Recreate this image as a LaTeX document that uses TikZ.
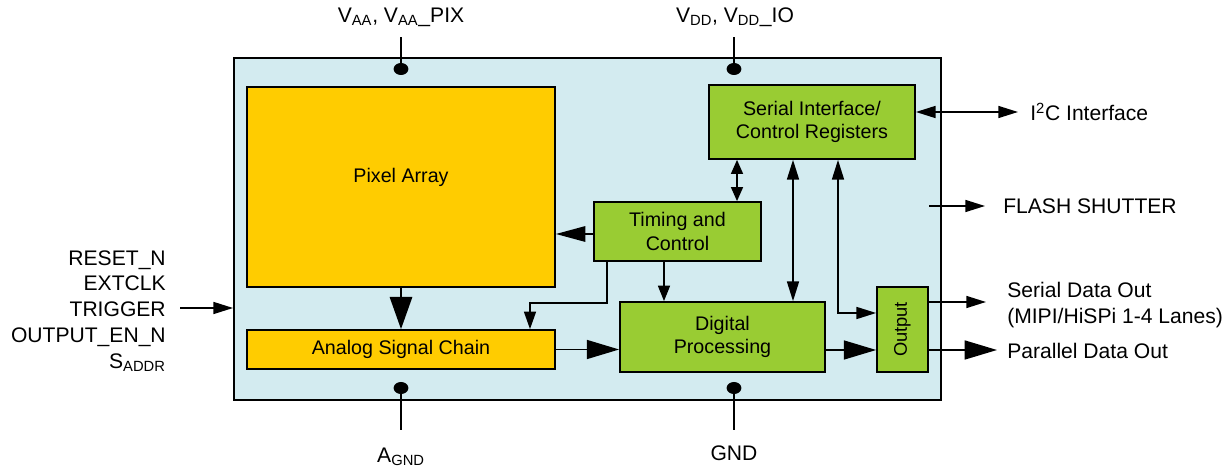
\documentclass[tikz,border=0pt]{standalone}
\usepackage{fontspec}
\setmainfont{Liberation Sans}
\usepackage{tikz}
\usetikzlibrary{arrows.meta, shapes.geometric}
\definecolor{ChipBlue}{HTML}{D3EBF0}
\definecolor{SensorYellow}{HTML}{FFCC00}
\definecolor{LogicGreen}{HTML}{99CC33}

\begin{document}
\begin{tikzpicture}[
  x=0.025cm, y=-0.025cm,
  btxt/.style={font=\fontsize{14}{16.7}\selectfont},
  box/.style={rectangle, draw, line width=1.2pt, inner sep=0pt, align=center, btxt},
  ybox/.style={box, fill=SensorYellow},
  gbox/.style={box, fill=LogicGreen},
  dot/.style={ellipse, fill, inner sep=0pt, minimum width=0.37cm, minimum height=0.3cm},
  lbl/.style={inner sep=0pt, font=\fontsize{15}{18.4}\selectfont},
  wire/.style={line width=1.2pt},
  arr/.style={wire, -{Triangle[length=14pt, width=8.5pt]}},
  dblarr/.style={wire, {Triangle[length=14pt, width=8.5pt]}-{Triangle[length=14pt, width=8.5pt]}},
  bigarr/.style={wire, -{Triangle[length=23pt, width=13.5pt]}}
]
\useasboundingbox (0,0) rectangle (1232,471);

% chip outline
\node[rectangle, draw, line width=1.2pt, fill=ChipBlue, minimum width=17.675cm, minimum height=8.55cm] (chip) at (587.5,229) {};

% blocks
\node[ybox, minimum width=7.7cm, minimum height=5cm,
      label={[btxt, yshift=0.24cm]center:Pixel Array}] (pix) at (401,187) {};
\node[ybox, minimum width=7.7cm, minimum height=0.975cm] (asc) at (401,349.5) {Analog Signal Chain};
\node[gbox, minimum width=5.15cm, minimum height=1.85cm] (sic) at (812,122) {Serial Interface/\\Control Registers};
\node[gbox, minimum width=4.175cm, minimum height=1.475cm] (tc) at (677.5,231.5) {Timing and\\Control};
\node[gbox, minimum width=5.125cm, minimum height=1.75cm] (dp) at (722.5,337) {Digital\\Processing};
\node[gbox, minimum width=1.275cm, minimum height=2.125cm] (out) at (902.5,329.5)
     {\fontsize{13}{15}\selectfont\rotatebox{90}{Output}};

% supply and ground pins
\node[dot] (vaadot) at (401,69) {};
\node[dot] (vdddot) at (734,69) {};
\node[dot] (agnddot) at (401,388) {};
\node[dot] (gnddot) at (734,388) {};
\coordinate (vaaend) at (401,37);
\coordinate (vddend) at (734,37);
\coordinate (agndend) at (401,430);
\coordinate (gndend) at (734,430);
\draw[wire] (vaadot.center) -- (vaaend);
\draw[wire] (vdddot.center) -- (vddend);
\draw[wire] (agnddot.center) -- (agndend);
\draw[wire] (gnddot.center) -- (gndend);
\node[lbl] (vaa) at (401,17) {V\textsubscript{AA}, V\textsubscript{AA}\_PIX};
\node[lbl] (vdd) at (735,17) {V\textsubscript{DD}, V\textsubscript{DD}\_IO};
\node[lbl] (agnd) at (401,457) {A\textsubscript{GND}};
\node[lbl] (gnd) at (734,453) {GND};

% inputs
\node[lbl, anchor=east, align=right] (ins) at (166,311)
     {RESET\_N\\EXTCLK\\TRIGGER\\OUTPUT\_EN\_N\\S\textsubscript{ADDR}};
\coordinate (inend) at (180,308);
\draw[arr] (inend) -- (inend -| chip.west);

% internal connections
\draw[wire, -{Triangle[length=23pt, width=16pt]}] (pix) -- (asc);
\draw[wire, -{Triangle[length=21pt, width=11pt]}] (tc.west |- 0,234) -- (pix.east |- 0,234);
\draw[wire, {Triangle[length=10pt, width=8.5pt]}-{Triangle[length=10pt, width=8.5pt]}] (sic.south -| 737,0) -- (tc.north -| 737,0);
\draw[wire, -{Triangle[length=11pt, width=8.5pt]}] (tc.south -| 664,0) -- (dp.north -| 664,0);
\draw[wire, -{Triangle[length=12.5pt, width=8.5pt]}] (tc.south -| 607,0) -- (607,303) -| (asc.north -| 530,0);
\draw[dblarr] (sic.south -| 793,0) -- (dp.north -| 793,0);
\draw[dblarr] (sic.south -| 838,0) |- (out.west |- 0,313);
\draw[bigarr] (asc.east) -- (asc.east -| dp.west);
\draw[bigarr] (dp.east |- 0,350) -- (out.west |- 0,350);

% outputs
\coordinate (i2cend) at (1018,112);
\coordinate (flashstart) at (929,206);
\coordinate (flashend) at (985,206);
\coordinate (serend) at (986,302);
\coordinate (parend) at (997,350);
\draw[dblarr] (sic.east |- i2cend) -- (i2cend);
\draw[arr] (flashstart) -- (flashend);
\draw[arr] (out.east |- serend) -- (serend);
\draw[bigarr] (out.east |- parend) -- (parend);
\node[lbl, anchor=west] (i2c) at (1030,112) {I\textsuperscript{2}C Interface};
\node[lbl, anchor=west] (flash) at (1003,206) {FLASH SHUTTER};
\node[lbl, anchor=west, align=left] (ser) at (1007,305) {Serial Data Out\\(MIPI/HiSPi 1-4 Lanes)};
\node[lbl, anchor=west] (par) at (1007,351) {Parallel Data Out};

\end{tikzpicture}
\end{document}
